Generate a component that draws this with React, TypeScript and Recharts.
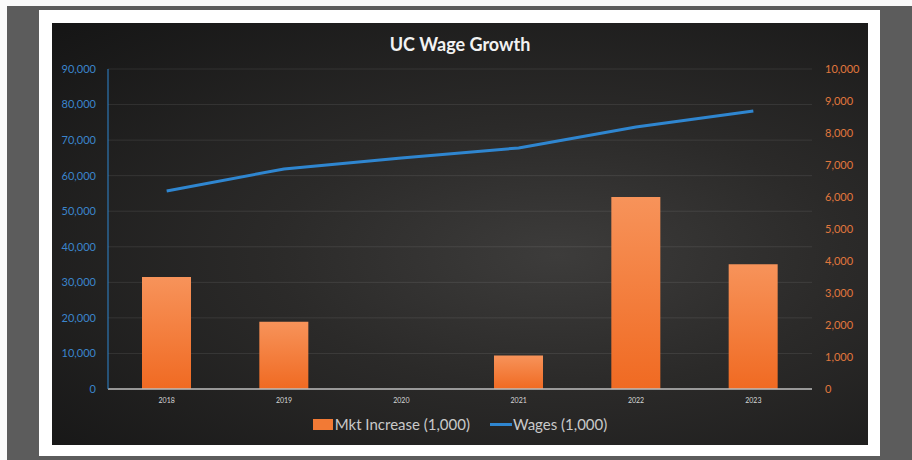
import React from "react";
import {
  ComposedChart,
  Bar,
  Line,
  XAxis,
  YAxis,
  CartesianGrid,
  Legend,
} from "recharts";

const years = ["2018", "2019", "2020", "2021", "2022", "2023"];
const mktIncrease = [3500, 2100, 0, 1050, 6000, 3900];
const wages = [55700, 61900, 65000, 67800, 73700, 78200];
const leftTicks = [0, 10000, 20000, 30000, 40000, 50000, 60000, 70000, 80000, 90000];
const rightTicks = [0, 1000, 2000, 3000, 4000, 5000, 6000, 7000, 8000, 9000, 10000];

const data = years.map((y, i) => ({ year: y, mkt: mktIncrease[i], wages: wages[i] }));

const FONT = "Lato, 'Open Sans', sans-serif";
const BLUE = "#2f86d0";
const ORANGE = "#f27a35";

const fmt = (v: number) => v.toLocaleString("en-US");

const renderLegend = () => (
  <div
    style={{
      display: "flex",
      justifyContent: "center",
      alignItems: "center",
      fontFamily: FONT,
      fontSize: 15,
      color: "#c9c9c9",
      paddingTop: 4,
    }}
  >
    <span style={{ display: "inline-block", width: 20, height: 11, background: ORANGE, marginRight: 2 }} />
    <span style={{ marginRight: 20 }}>Mkt Increase (1,000)</span>
    <span style={{ display: "inline-block", width: 22, height: 3, background: BLUE, marginRight: 1 }} />
    <span>Wages (1,000)</span>
  </div>
);

export default function App() {
  return (
    <div style={{ position: "absolute", left: 0, top: 0, width: 912, height: 460, background: "#fafafa", overflow: "hidden" }}>
      <div style={{ position: "absolute", left: 7, top: 6, width: 905, height: 454, background: "#5c5c5c" }} />
      <div style={{ position: "absolute", left: 39, top: 10, width: 841, height: 446, background: "#ffffff" }} />
      <div
        style={{
          position: "absolute",
          left: 52,
          top: 23,
          width: 816,
          height: 422,
          background: "radial-gradient(ellipse at 62% 55%, #3d3c3b 0%, #2b2a29 40%, #151515 100%)",
        }}
      >
        <div
          style={{
            position: "absolute",
            left: 0,
            top: 10,
            width: 816,
            textAlign: "center",
            fontFamily: FONT,
            fontWeight: 700,
            fontSize: 18,
            color: "#f2f2f2",
          }}
        >
          UC Wage Growth
        </div>
        <ComposedChart
          width={816}
          height={422}
          data={data}
          margin={{ top: 46, right: 0, bottom: 0, left: 0 }}
          barCategoryGap="29%"
          style={{ position: "absolute", left: 0, top: 0 }}
        >
          <defs>
            <linearGradient id="barGrad" x1="0" y1="0" x2="0" y2="1">
              <stop offset="0%" stopColor="#f7935a" />
              <stop offset="100%" stopColor="#f06a22" />
            </linearGradient>
          </defs>
          <CartesianGrid yAxisId="left" vertical={false} stroke="rgba(255,255,255,0.09)" />
          <XAxis
            dataKey="year"
            height={22}
            tickLine={false}
            axisLine={{ stroke: "#bdbdbd", strokeWidth: 1.5 }}
            tick={{ fill: "#d6d6d6", fontSize: 7, fontFamily: FONT }}
            tickMargin={3}
          />
          <YAxis
            yAxisId="left"
            orientation="left"
            width={56}
            domain={[0, 90000]}
            ticks={leftTicks}
            tickFormatter={fmt}
            tickLine={false}
            axisLine={{ stroke: BLUE, strokeWidth: 1 }}
            tick={{ fill: "#3b85cc", fontSize: 11, fontFamily: FONT }}
            tickMargin={6}
          />
          <YAxis
            yAxisId="right"
            orientation="right"
            width={56}
            domain={[0, 10000]}
            ticks={rightTicks}
            tickFormatter={fmt}
            tickLine={false}
            axisLine={false}
            tick={{ fill: "#e0773d", fontSize: 11, fontFamily: FONT }}
            tickMargin={7}
          />
          <Legend verticalAlign="bottom" height={34} content={renderLegend} />
          <Bar
            yAxisId="right"
            dataKey="mkt"
            name="Mkt Increase (1,000)"
            fill="url(#barGrad)"
            barSize={49}
            isAnimationActive={false}
          />
          <Line
            yAxisId="left"
            dataKey="wages"
            name="Wages (1,000)"
            stroke={BLUE}
            strokeWidth={3}
            dot={false}
            type="linear"
            isAnimationActive={false}
          />
        </ComposedChart>
      </div>
    </div>
  );
}
